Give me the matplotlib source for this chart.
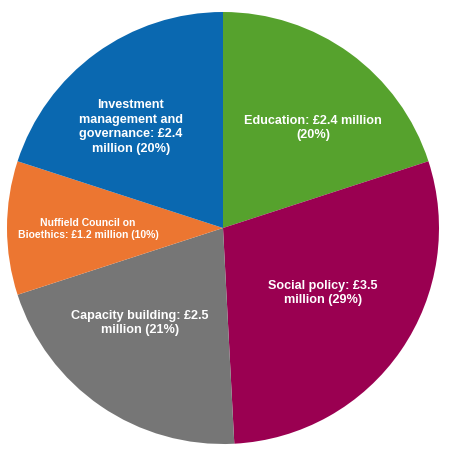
import matplotlib
matplotlib.use("Agg")
import matplotlib.pyplot as plt

# funding by area, in £ million (clockwise from top)
areas = ["Education", "Social policy", "Capacity building",
         "Nuffield Council on Bioethics", "Investment management and governance"]
amounts = [2.4, 3.5, 2.5, 1.2, 2.4]
shares = [20, 29, 21, 10, 20]
colours = ["#56a22d", "#9a0051", "#767676", "#ec7631", "#0a68b0"]

labels = [
    "Education: £2.4 million\n(20%)",
    "Social policy: £3.5\nmillion (29%)",
    "Capacity building: £2.5\nmillion (21%)",
    "Nuffield Council on\nBioethics: £1.2 million (10%)",
    "Investment\nmanagement and\ngovernance: £2.4\nmillion (20%)",
]
label_pos = [(313, 327), (323, 162), (140, 132), (88, 226), (131, 328)]
label_size = [9.1, 9.1, 9.1, 7.5, 9.1]
label_gap = [1.27, 1.27, 1.27, 1.2, 1.27]

plt.rcParams['font.family'] = ['Liberation Sans', 'DejaVu Sans']

fig = plt.figure(figsize=(4.5, 4.55), dpi=100)
ax = fig.add_axes([0, 0, 1, 1])
ax.pie(amounts, colors=colours, startangle=90, counterclock=False,
       radius=216, center=(223, 227), wedgeprops=dict(linewidth=0))
ax.set_xlim(0, 450)
ax.set_ylim(0, 455)
ax.set_aspect('equal')
ax.axis('off')

for txt, (x, y), fs, ls in zip(labels, label_pos, label_size, label_gap):
    ax.text(x, y, txt, ha='center', va='center', color='white',
            fontsize=fs, fontweight='bold', linespacing=ls)

fig.savefig("out.png", dpi=100, facecolor='white')
